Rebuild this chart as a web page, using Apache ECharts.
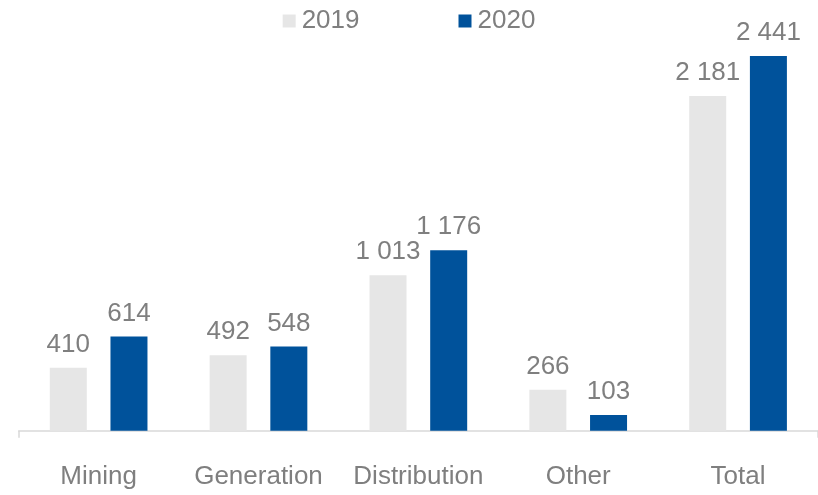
<!DOCTYPE html>
<html><head><meta charset="utf-8">
<script src="https://cdn.jsdelivr.net/npm/echarts@6/dist/echarts.min.js"></script>
<style>html,body{margin:0;padding:0;background:#fff}#c{width:818px;height:495px}</style>
</head><body><div id="c"></div>
<script>
const categories = ['Mining','Generation','Distribution','Other','Total'];
const values2019 = [410, 492, 1013, 266, 2181];
const values2020 = [614, 548, 1176, 103, 2441];
const seriesNames = ['2019','2020'];
const fmt = p => String(p.value).replace(/\B(?=(\d{3})+(?!\d))/g, ' ');
const font = '"Liberation Sans", Arial, sans-serif';
const chart = echarts.init(document.getElementById('c'));
const label = {show:true, position:'top', distance:10, color:'#7f7f7f', fontSize:26, fontFamily:font, formatter:fmt};
chart.setOption({
  animation:false,
  legend:{top:3, left:'center', itemWidth:13, itemHeight:13, itemGap:99, icon:'rect',
    textStyle:{color:'#7f7f7f', fontSize:26, fontFamily:font, padding:[0,0,0,1]}, data:seriesNames},
  grid:{left:18.7, right:-3, top:47, bottom:64.3, containLabel:false},
  xAxis:{type:'category', data:categories,
    axisLine:{lineStyle:{color:'#d9d9d9', width:1.5}},
    axisTick:{show:true, length:7, interval:(i)=>i===0, lineStyle:{color:'#d9d9d9', width:1.5}},
    axisLabel:{interval:0, color:'#7f7f7f', fontSize:26, fontFamily:font, margin:33}},
  yAxis:{type:'value', min:0, max:2500, show:false, splitLine:{show:false}},
  series:[
    {name:seriesNames[0], type:'bar', data:values2019, barWidth:37, barGap:'64%', itemStyle:{color:'#e6e6e6'}, label},
    {name:seriesNames[1], type:'bar', data:values2020, barWidth:37, itemStyle:{color:'#00529b'}, label}
  ]
});
</script></body></html>
